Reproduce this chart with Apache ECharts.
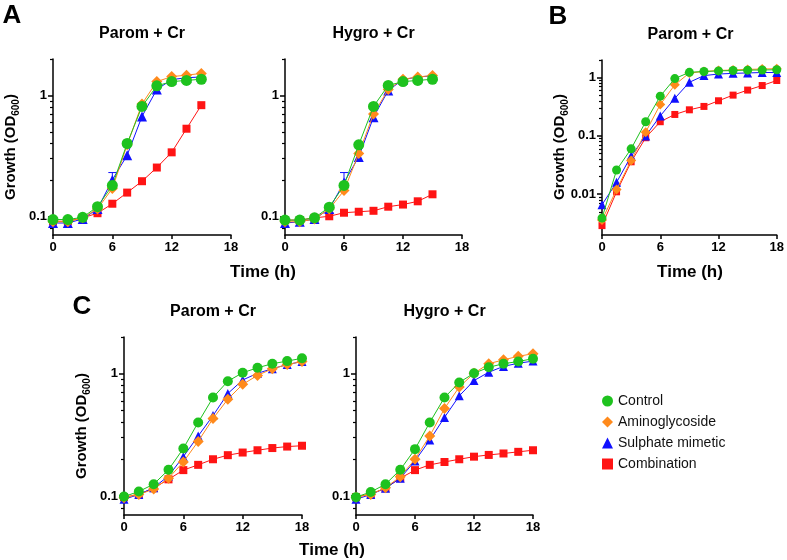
<!DOCTYPE html>
<html>
<head>
<meta charset="utf-8">
<script src="https://cdn.jsdelivr.net/npm/echarts@6/dist/echarts.min.js"></script>
<style>
  html, body { margin: 0; padding: 0; background: #fff; }
  #chart { width: 787px; height: 560px; }
</style>
</head>
<body>
<div id="chart"></div>
<script>
// time points (h)
let tA = [0, 1.5, 3, 4.5, 6, 7.5, 9, 10.5, 12, 13.5, 15];
let tBC = [0, 1.5, 3, 4.5, 6, 7.5, 9, 10.5, 12, 13.5, 15, 16.5, 18];

// A - Parom + Cr
let a1Control = [0.094, 0.094, 0.098, 0.12, 0.18, 0.40, 0.81, 1.2, 1.3, 1.33, 1.36];
let a1Amino   = [0.09, 0.09, 0.097, 0.115, 0.17, 0.39, 0.85, 1.3, 1.43, 1.47, 1.52];
let a1Sulph   = [0.088, 0.088, 0.095, 0.115, 0.2, 0.32, 0.67, 1.12, 1.35, 1.4, 1.42];
let a1Combo   = [0.091, 0.091, 0.097, 0.106, 0.127, 0.157, 0.195, 0.253, 0.338, 0.53, 0.83];
let a1Err     = [[6, 0.2, 0.23]];

// A - Hygro + Cr
let a2Control = [0.093, 0.093, 0.097, 0.119, 0.18, 0.39, 0.81, 1.21, 1.3, 1.33, 1.36];
let a2Amino   = [0.09, 0.09, 0.095, 0.115, 0.163, 0.33, 0.7, 1.12, 1.36, 1.42, 1.46];
let a2Sulph   = [0.088, 0.09, 0.095, 0.115, 0.19, 0.31, 0.66, 1.1, 1.35, 1.42, 1.45];
let a2Combo   = [0.093, 0.093, 0.097, 0.1, 0.107, 0.109, 0.111, 0.12, 0.125, 0.133, 0.152];
let a2Err     = [[6, 0.19, 0.23]];

// B - Parom + Cr
let bControl = [0.0039, 0.026, 0.06, 0.175, 0.48, 0.96, 1.23, 1.27, 1.3, 1.32, 1.34, 1.35, 1.36];
let bAmino   = [0.0036, 0.012, 0.038, 0.116, 0.345, 0.75, 1.2, 1.27, 1.32, 1.35, 1.38, 1.4, 1.42];
let bSulph   = [0.0066, 0.016, 0.045, 0.1, 0.22, 0.44, 0.83, 1.08, 1.15, 1.18, 1.2, 1.22, 1.22];
let bCombo   = [0.0029, 0.011, 0.036, 0.093, 0.175, 0.233, 0.28, 0.32, 0.4, 0.5, 0.61, 0.73, 0.89];

// C - Parom + Cr
let c1Control = [0.099, 0.109, 0.125, 0.164, 0.245, 0.40, 0.64, 0.87, 1.02, 1.12, 1.21, 1.27, 1.34];
let c1Amino   = [0.097, 0.103, 0.114, 0.14, 0.19, 0.28, 0.43, 0.62, 0.82, 0.97, 1.1, 1.19, 1.26];
let c1Sulph   = [0.094, 0.103, 0.117, 0.146, 0.21, 0.31, 0.455, 0.69, 0.89, 1.01, 1.1, 1.19, 1.26];
let c1Combo   = [0.098, 0.103, 0.116, 0.137, 0.163, 0.18, 0.2, 0.216, 0.227, 0.237, 0.247, 0.254, 0.258];

// C - Hygro + Cr
let c2Control = [0.098, 0.108, 0.125, 0.164, 0.242, 0.40, 0.64, 0.85, 1.01, 1.13, 1.21, 1.26, 1.33];
let c2Amino   = [0.098, 0.103, 0.117, 0.144, 0.2, 0.31, 0.52, 0.78, 1.01, 1.21, 1.3, 1.39, 1.46];
let c2Sulph   = [0.094, 0.103, 0.116, 0.14, 0.194, 0.287, 0.44, 0.66, 0.88, 1.03, 1.15, 1.22, 1.27];
let c2Combo   = [0.098, 0.104, 0.116, 0.14, 0.163, 0.18, 0.19, 0.2, 0.21, 0.217, 0.223, 0.23, 0.237];

// axis ticks
let xTicks = [0, 6, 12, 18];
let yMajorA = [0.1, 1];
let yMinorA = [0.08, 0.09, 0.2, 0.3, 0.4, 0.5, 0.6, 0.7, 0.8, 0.9, 2];
let yMajorB = [0.01, 0.1, 1];
let yMinorB = [0.003, 0.004, 0.005, 0.006, 0.007, 0.008, 0.009,
               0.02, 0.03, 0.04, 0.05, 0.06, 0.07, 0.08, 0.09,
               0.2, 0.3, 0.4, 0.5, 0.6, 0.7, 0.8, 0.9, 2];

let names = ['Control', 'Aminoglycoside', 'Sulphate mimetic', 'Combination'];
let colors = ['#1ec21e', '#ff8a1c', '#1010ff', '#ff1414'];
let symbols = ['circle', 'diamond', 'triangle', 'rect'];

const FONT = '"Liberation Sans", Arial, sans-serif';

let panels = [
    { grid: { left: 53, top: 59, width: 178, height: 176 }, t: tA, min: 0.07, max: 2,
      major: yMajorA, minor: yMinorA, series: [a1Control, a1Amino, a1Sulph, a1Combo], err: a1Err,
      title: 'Parom + Cr', sizes: [11, 11, 10, 8] },
    { grid: { left: 285, top: 59, width: 177, height: 176 }, t: tA, min: 0.07, max: 2,
      major: yMajorA, minor: yMinorA, series: [a2Control, a2Amino, a2Sulph, a2Combo], err: a2Err,
      title: 'Hygro + Cr', sizes: [11, 11, 10, 8] },
    { grid: { left: 602, top: 60, width: 177, height: 175 }, t: tBC, min: 0.002, max: 2,
      major: yMajorB, minor: yMinorB, series: [bControl, bAmino, bSulph, bCombo], err: null,
      title: 'Parom + Cr', sizes: [9, 10, 9, 7] },
    { grid: { left: 124, top: 337, width: 178, height: 178 }, t: tBC, min: 0.07, max: 2,
      major: yMajorA, minor: yMinorA, series: [c1Control, c1Amino, c1Sulph, c1Combo], err: null,
      title: 'Parom + Cr', sizes: [10, 11, 9, 8] },
    { grid: { left: 356, top: 337, width: 177, height: 178 }, t: tBC, min: 0.07, max: 2,
      major: yMajorA, minor: yMinorA, series: [c2Control, c2Amino, c2Sulph, c2Combo], err: null,
      title: 'Hygro + Cr', sizes: [10, 11, 9, 8] }
];

let grids = [], xAxes = [], yAxes = [], series = [], graphics = [];

panels.forEach(function (p, i) {
    grids.push(p.grid);
    xAxes.push({
        type: 'value', gridIndex: i, min: 0, max: 18, interval: 6,
        axisLine: { lineStyle: { color: '#000', width: 1.5 } },
        axisTick: { length: 4, lineStyle: { color: '#000', width: 1.5 } },
        axisLabel: { margin: 6, color: '#000', fontSize: 13, fontWeight: 'bold', fontFamily: FONT,
                     customValues: xTicks },
        splitLine: { show: false }
    });
    // major ticks + labels
    yAxes.push({
        type: 'log', logBase: 10, gridIndex: i, position: 'left', min: p.min, max: p.max,
        axisLine: { show: true, lineStyle: { color: '#000', width: 1.5 } },
        axisTick: { show: true, length: 5, lineStyle: { color: '#000', width: 1.5 }, customValues: p.major },
        axisLabel: { margin: 6, color: '#000', fontSize: 13, fontWeight: 'bold', fontFamily: FONT,
                     customValues: p.major,
                     formatter: function (v) { return String(+(+v).toPrecision(3)); } },
        splitLine: { show: false }
    });
    // minor ticks, same side
    yAxes.push({
        type: 'log', logBase: 10, gridIndex: i, position: 'left', min: p.min, max: p.max,
        axisLine: { show: false },
        axisTick: { show: true, length: 3, lineStyle: { color: '#000', width: 1.2 }, customValues: p.minor },
        axisLabel: { show: false },
        splitLine: { show: false }
    });

    // error bars
    if (p.err) {
        series.push({
            name: 'err' + i, type: 'custom', xAxisIndex: i, yAxisIndex: i * 2, z: 1,
            data: p.err,
            renderItem: function (params, api) {
                let a = api.coord([api.value(0), api.value(1)]);
                let b = api.coord([api.value(0), api.value(2)]);
                let st = { stroke: colors[2], lineWidth: 1 };
                return { type: 'group', children: [
                    { type: 'line', shape: { x1: a[0], y1: a[1], x2: b[0], y2: b[1] }, style: st },
                    { type: 'line', shape: { x1: b[0] - 4, y1: b[1], x2: b[0] + 4, y2: b[1] }, style: st }
                ] };
            }
        });
    }

    // draw combination first so control ends up on top
    for (let k = 3; k >= 0; k--) {
        series.push({
            name: names[k], type: 'line', xAxisIndex: i, yAxisIndex: i * 2,
            data: p.t.map(function (t, j) { return [t, p.series[k][j]]; }),
            symbol: symbols[k], symbolSize: p.sizes[k], showSymbol: true,
            lineStyle: { color: colors[k], width: 1 },
            itemStyle: { color: colors[k] },
            z: 2 + (3 - k)
        });
    }

    // panel title
    graphics.push({
        type: 'text', x: p.grid.left + p.grid.width / 2, y: p.grid.top - 25,
        style: { text: p.title, font: 'bold 16px ' + FONT, fill: '#000', align: 'center', verticalAlign: 'middle' }
    });
});

// y axis names
function yName(x, y) {
    return {
        type: 'text', x: x, y: y, rotation: Math.PI / 2,
        style: {
            text: '{m|Growth (OD}{s|600}{m|)}', align: 'center', verticalAlign: 'middle',
            rich: {
                m: { fontSize: 15, fontWeight: 'bold', fontFamily: FONT, fill: '#000', lineHeight: 20 },
                s: { fontSize: 10, fontWeight: 'bold', fontFamily: FONT, fill: '#000', lineHeight: 10, verticalAlign: 'bottom' }
            }
        }
    };
}
graphics.push(yName(11, 147), yName(560, 147), yName(82, 426));

// x axis names
function xName(x, y) {
    return { type: 'text', x: x, y: y,
             style: { text: 'Time (h)', font: 'bold 17px ' + FONT, fill: '#000', align: 'center', verticalAlign: 'middle' } };
}
graphics.push(xName(263, 272), xName(690, 272), xName(332, 550));

// panel letters
function letter(txt, x, y) {
    return { type: 'text', x: x, y: y,
             style: { text: txt, font: 'bold 26px ' + FONT, fill: '#000', align: 'center', verticalAlign: 'middle' } };
}
graphics.push(letter('A', 12, 16), letter('B', 558, 17), letter('C', 82, 307));

let chart = echarts.init(document.getElementById('chart'));
chart.setOption({
    animation: false,
    backgroundColor: '#fff',
    grid: grids,
    xAxis: xAxes,
    yAxis: yAxes,
    series: series,
    graphic: graphics,
    legend: {
        orient: 'vertical', left: 597, top: 389,
        itemWidth: 11, itemHeight: 11, itemGap: 7,
        textStyle: { fontSize: 14, color: '#111', fontFamily: FONT },
        data: names.map(function (n, k) { return { name: n, icon: symbols[k] }; })
    }
});
</script>
</body>
</html>
